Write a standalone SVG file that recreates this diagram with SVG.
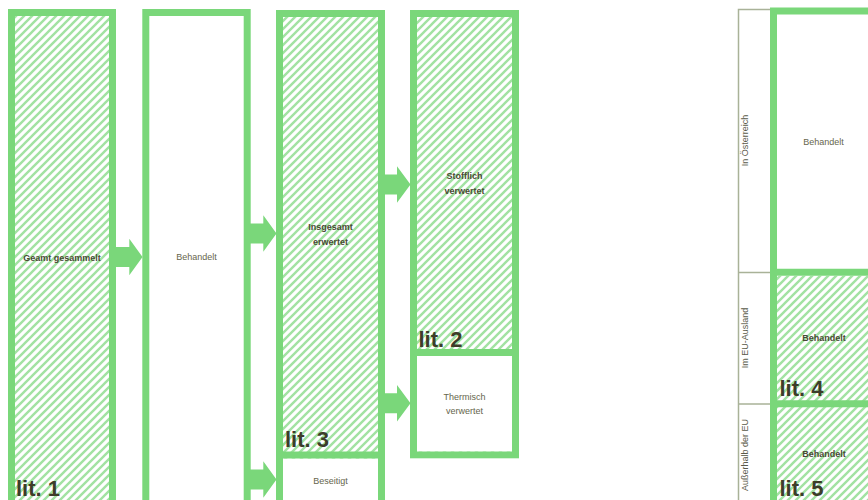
<svg xmlns="http://www.w3.org/2000/svg" width="868" height="500" viewBox="0 0 868 500">
<defs>
  <pattern id="hatch" patternUnits="userSpaceOnUse" width="8" height="8">
    <rect width="8" height="8" fill="#ffffff"/>
    <path d="M-2,2 L2,-2 M0,8 L8,0 M6,10 L10,6" stroke="#a2e2a2" stroke-width="2.4"/>
  </pattern>
</defs>
<style>
  .box { stroke: #7ad77a; stroke-width: 7; }
  .hatched { fill: url(#hatch); }
  .plain { fill: #ffffff; }
  .div { stroke: #7ad77a; stroke-width: 7; fill: none; }
  .arrow { fill: #7ad77a; }
  .thin { stroke: #a9b298; stroke-width: 1.5; fill: none; }
  text { font-family: "Liberation Sans", Arial, sans-serif; text-anchor: middle; }
  .bold { font-size: 9px; font-weight: bold; fill: #4a4a34; }
  .norm { font-size: 9px; fill: #66664d; }
  .lit { font-size: 22px; font-weight: bold; fill: #3d3d29; text-anchor: start; }
  .side { font-size: 9px; fill: #5a5a4a; }
</style>

<g id="node-gesammelt">
  <rect class="box hatched" x="11.5" y="12.5" width="101" height="520"/>
  <text class="bold" x="62" y="260.5">Geamt gesammelt</text>
  <text class="lit" x="16" y="496">lit. 1</text>
</g>

<g id="node-behandelt">
  <rect class="box plain" x="145.8" y="12.5" width="101.4" height="520"/>
  <text class="norm" x="196.5" y="260.3">Behandelt</text>
</g>

<g id="node-erwertet">
  <rect class="box hatched" x="279.5" y="13.5" width="102" height="520"/>
  <rect class="plain" x="283" y="458.5" width="95" height="60"/>
  <line class="div" x1="279.5" y1="455" x2="381.5" y2="455"/>
  <text class="bold" x="330.5" y="230">Insgesamt</text>
  <text class="bold" x="330.5" y="245">erwertet</text>
  <text class="lit" x="285" y="447.3">lit. 3</text>
</g>

<g id="node-beseitigt">
  <text class="norm" x="330.5" y="484">Beseitigt</text>
</g>

<g id="node-stofflich">
  <rect class="box hatched" x="413.5" y="13.5" width="102" height="441.3"/>
  <rect class="plain" x="417" y="356" width="95" height="95.3"/>
  <line class="div" x1="413.5" y1="352.4" x2="515.5" y2="352.4"/>
  <text class="bold" x="464.5" y="179">Stofflich</text>
  <text class="bold" x="464.5" y="194.3">verwertet</text>
  <text class="lit" x="418.5" y="346.7">lit. 2</text>
</g>

<g id="node-thermisch">
  <text class="norm" x="464.5" y="400">Thermisch</text>
  <text class="norm" x="464.5" y="414">verwertet</text>
</g>

<g id="labels-right">
  <path class="thin" d="M738.5,520 V9.5 H772 M738.5,272.5 H772 M738.5,404 H772"/>
  <text class="side" transform="translate(745,140.5) rotate(-90)" dy="0.35em">In Österreich</text>
  <text class="side" transform="translate(745,338) rotate(-90)" dy="0.35em">Im EU-Ausland</text>
  <text class="side" transform="translate(745,455) rotate(-90)" dy="0.35em">Außerhalb der EU</text>
</g>

<g id="node-oesterreich">
  <rect class="box plain" x="773.5" y="11" width="110" height="520"/>
  <rect class="hatched" x="777" y="275.8" width="100" height="250"/>
  <line class="div" x1="773.5" y1="272.3" x2="880" y2="272.3"/>
  <text class="norm" x="823.5" y="145">Behandelt</text>
</g>

<g id="node-eu-ausland">
  <line class="div" x1="773.5" y1="403.7" x2="880" y2="403.7"/>
  <text class="bold" x="824" y="341">Behandelt</text>
  <text class="lit" x="779.5" y="396">lit. 4</text>
</g>

<g id="node-ausserhalb">
  <text class="bold" x="824" y="456.6">Behandelt</text>
  <text class="lit" x="779.5" y="496">lit. 5</text>
</g>

<g id="connectors">
  <polygon class="arrow" points="115,247 129.3,247 129.3,238.7 142.5,257 129.3,275.3 129.3,267 115,267"/>
  <polygon class="arrow" points="249,223.5 263.3,223.5 263.3,215.2 276.5,233.5 263.3,251.8 263.3,243.5 249,243.5"/>
  <polygon class="arrow" points="249,469.5 263.3,469.5 263.3,461.2 276.5,479.5 263.3,497.8 263.3,489.5 249,489.5"/>
  <polygon class="arrow" points="383,174.5 397,174.5 397,166.2 410.5,184.5 397,202.8 397,194.5 383,194.5"/>
  <polygon class="arrow" points="383,393.3 397,393.3 397,385 410.5,403.3 397,421.6 397,413.3 383,413.3"/>
</g>
</svg>
